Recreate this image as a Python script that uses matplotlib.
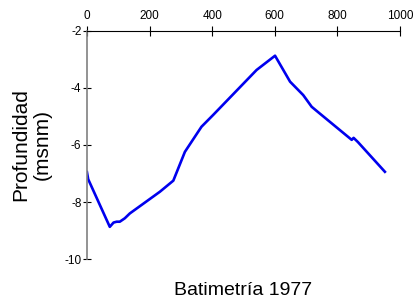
import matplotlib
matplotlib.use("Agg")
from matplotlib import pyplot as plt

plt.rcParams["font.family"] = ["Liberation Sans", "DejaVu Sans"]
plt.rcParams["axes.unicode_minus"] = False

# Bathymetry profile 1977 (distance, depth)
distance = [0, 4, 73, 85, 95, 105, 121, 137, 233, 276, 313, 366, 403,
            542, 601, 649, 691, 718, 741, 846, 852, 866, 952]
depth = [-6.95, -7.2, -8.87, -8.72, -8.69, -8.69, -8.57, -8.40, -7.64, -7.25,
         -6.24, -5.36, -4.95, -3.37, -2.87, -3.78, -4.25, -4.66, -4.87,
         -5.82, -5.75, -5.9, -6.94]

xticks = [0, 200, 400, 600, 800, 1000]
yticks = [-2, -4, -6, -8, -10]

fig = plt.figure(figsize=(4.14, 3.03), dpi=100)
ax = fig.add_axes([0.210, 0.145, 0.756, 0.753])

ax.plot(distance, depth, color="#0000ee", linewidth=1.9)

ax.set_xlim(0, 1000)
ax.set_ylim(-10, -2)
ax.set_xticks(xticks)
ax.set_yticks(yticks)

ax.xaxis.tick_top()
ax.spines["right"].set_visible(False)
ax.spines["bottom"].set_visible(False)
ax.spines["top"].set_color("black")
ax.spines["left"].set_color("#808080")
ax.spines["left"].set_linewidth(1.2)
ax.tick_params(axis="x", direction="inout", length=7, labelsize=8.5, pad=3)
ax.tick_params(axis="y", direction="inout", length=6, labelsize=8.5, pad=1)

ax.set_ylabel("Profundidad\n(msnm)", fontsize=15, linespacing=1.15, labelpad=9)
fig.text(0.588, 0.025, "Batimetría 1977", fontsize=14, ha="center")

plt.savefig("out.png", dpi=100)
plt.close()
